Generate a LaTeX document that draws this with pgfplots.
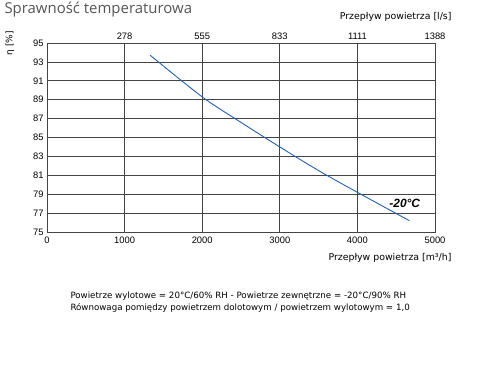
\documentclass[border=0pt]{standalone}
\usepackage{fontspec}
\setmainfont{DejaVu Sans}
\newfontfamily\tickfont{Liberation Sans}
\newfontfamily\titlefont{Open Sans}
\usepackage{pgfplots}
\pgfplotsset{compat=1.18}
\definecolor{gridc}{HTML}{444444}
\definecolor{titlec}{HTML}{555555}
\definecolor{curvec}{HTML}{2260B8}
\begin{document}
\begin{tikzpicture}[x=1bp,y=1bp]
\useasboundingbox (0,0) rectangle (480,-390);
\begin{axis}[at={(47bp,-232bp)}, anchor=south west, scale only axis,
  width=388bp, height=189bp,
  xmin=0, xmax=5000, ymin=75, ymax=95,
  xtick={0,1000,...,5000}, ytick={75,77,...,95},
  grid=major,
  major grid style={color=gridc, line width=0.8pt},
  axis line style={gridc, line width=0.8pt},
  major tick length=0pt,
  tick label style={font=\tickfont\fontsize{9.4}{11}\selectfont, text=black},
  /pgf/number format/assume math mode=true,
  /pgf/number format/1000 sep={},
  xticklabel style={yshift=-1bp},
  clip=false]
\addplot[curvec, line width=0.9pt, smooth] coordinates {
(1330,93.7) (2000,89.3) (2500,86.6) (3000,84.0) (3500,81.5) (4000,79.2) (4670,76.2)};
\node[font=\tickfont\fontsize{12}{14}\selectfont\bfseries\itshape] at (axis cs:4610,78.0) {-20°C};
\end{axis}
\begin{axis}[at={(47bp,-232bp)}, anchor=south west, scale only axis,
  width=388bp, height=189bp,
  xmin=0, xmax=5000, ymin=75, ymax=95,
  axis x line*=top, axis y line=none,
  xtick={1000,2000,3000,4000,5000},
  xticklabels={278,555,833,1111,1388},
  major tick length=0pt,
  axis line style={draw=none},
  tick label style={font=\tickfont\fontsize{9.4}{11}\selectfont, text=black},
  /pgf/number format/assume math mode=true]
\addplot[draw=none] coordinates {(0,75) (5000,95)};
\end{axis}
\node[anchor=west, text=titlec, font=\titlefont\fontsize{15}{17}\selectfont] at (1,-10) {Sprawność temperaturowa};
\node[anchor=east, font=\fontsize{9.4}{11}\selectfont] at (455,-17) {Przepływ powietrza [l/s]};
\node[anchor=east, font=\fontsize{9.4}{11}\selectfont] at (455,-258) {Przepływ powietrza [m³/h]};
\node[rotate=90, font=\fontsize{9}{10}\selectfont] at (10,-43) {η [\%]};
\node[anchor=west, font=\fontsize{8.7}{12.5}\selectfont, align=left] at (67,-302) {Powietrze wylotowe = 20°C/60\% RH - Powietrze zewnętrzne = -20°C/90\% RH\\Równowaga pomiędzy powietrzem dolotowym / powietrzem wylotowym = 1,0};
\end{tikzpicture}
\end{document}
